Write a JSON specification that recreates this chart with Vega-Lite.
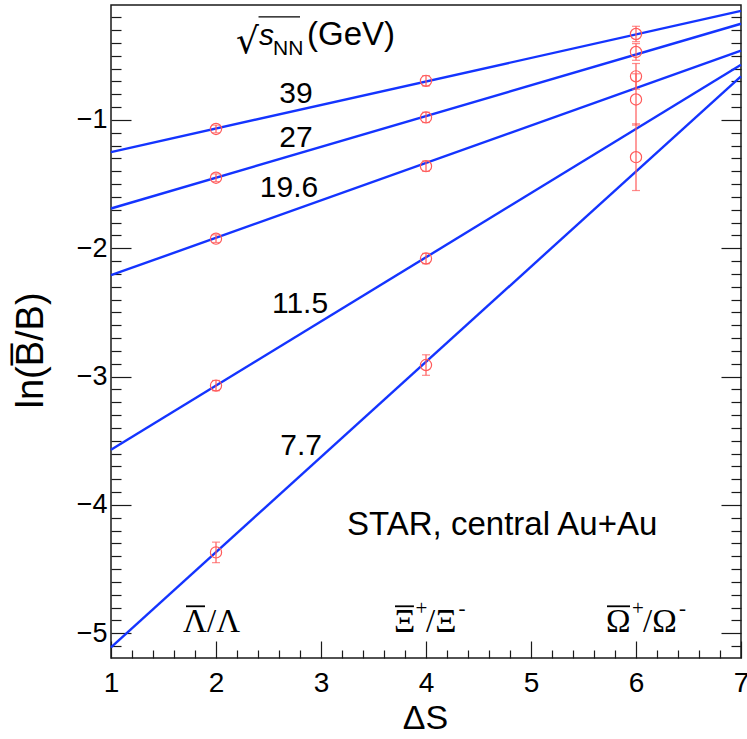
{
  "$schema": "https://vega.github.io/schema/vega-lite/v6.json",
  "width": 630,
  "height": 653,
  "autosize": "none",
  "padding": {"left": 111, "top": 5, "right": 6, "bottom": 81},
  "background": "white",
  "config": {
    "view": {"stroke": "#1a1a1a", "strokeWidth": 1.5},
    "axis": {"grid": false, "domain": false, "tickColor": "#1a1a1a", "tickWidth": 1.2, "labelFont": "Liberation Sans", "titleFont": "Liberation Sans", "labelColor": "black", "titleColor": "black", "titleFontWeight": "normal", "labelFlush": false, "labelOverlap": false},
    "text": {"font": "Liberation Sans", "color": "black"}
  },
  "datasets": {
    "fits": [
      {"energy": "39", "x": 1, "y": -1.25}, {"energy": "39", "x": 7, "y": -0.15},
      {"energy": "27", "x": 1, "y": -1.69}, {"energy": "27", "x": 7, "y": -0.25},
      {"energy": "19.6", "x": 1, "y": -2.21}, {"energy": "19.6", "x": 7, "y": -0.46},
      {"energy": "11.5", "x": 1, "y": -3.57}, {"energy": "11.5", "x": 7, "y": -0.57},
      {"energy": "7.7", "x": 1, "y": -5.11}, {"energy": "7.7", "x": 7, "y": -0.66}
    ],
    "pts": [
      {"energy": "39", "x": 2, "y": -1.07, "err": 0.03},
      {"energy": "27", "x": 2, "y": -1.45, "err": 0.03},
      {"energy": "19.6", "x": 2, "y": -1.925, "err": 0.03},
      {"energy": "11.5", "x": 2, "y": -3.07, "err": 0.04},
      {"energy": "7.7", "x": 2, "y": -4.37, "err": 0.08},
      {"energy": "39", "x": 4, "y": -0.695, "err": 0.04},
      {"energy": "27", "x": 4, "y": -0.98, "err": 0.04},
      {"energy": "19.6", "x": 4, "y": -1.36, "err": 0.04},
      {"energy": "11.5", "x": 4, "y": -2.08, "err": 0.04},
      {"energy": "7.7", "x": 4, "y": -2.91, "err": 0.08},
      {"energy": "39", "x": 6, "y": -0.33, "err": 0.06},
      {"energy": "27", "x": 6, "y": -0.47, "err": 0.065},
      {"energy": "19.6", "x": 6, "y": -0.66, "err": 0.1},
      {"energy": "11.5", "x": 6, "y": -0.84, "err": 0.2},
      {"energy": "7.7", "x": 6, "y": -1.29, "err": 0.26}
    ],
    "elabels": [
      {"label": "39", "x": 2.762, "y": -0.868},
      {"label": "27", "x": 2.762, "y": -1.21},
      {"label": "19.6", "x": 2.695, "y": -1.6},
      {"label": "11.5", "x": 2.8, "y": -2.504},
      {"label": "7.7", "x": 2.81, "y": -3.611}
    ],
    "star": [{"label": "STAR, central Au+Au", "x": 3.248, "y": -4.235}],
    "pmain": [
      {"label": "Λ/Λ", "x": 1.686, "y": -4.991},
      {"label": "Ξ", "x": 3.695, "y": -4.991},
      {"label": "/Ξ", "x": 4.0, "y": -4.991},
      {"label": "Ω", "x": 5.714, "y": -4.991},
      {"label": "/Ω", "x": 6.067, "y": -4.991}
    ],
    "psup": [
      {"label": "+", "x": 3.9, "y": -4.858},
      {"label": "-", "x": 4.31, "y": -4.858},
      {"label": "+", "x": 5.962, "y": -4.858},
      {"label": "-", "x": 6.41, "y": -4.858}
    ],
    "pbar": [
      {"x": 1.714, "x2": 1.895, "y": -4.79},
      {"x": 3.705, "x2": 3.885, "y": -4.79},
      {"x": 5.724, "x2": 5.943, "y": -4.79}
    ],
    "hroot": [{"label": "√", "x": 2.19, "y": -0.478}],
    "hs": [{"label": "s", "x": 2.41, "y": -0.415}],
    "hnn": [{"label": "NN", "x": 2.543, "y": -0.493}],
    "hgev": [{"label": "(GeV)", "x": 2.867, "y": -0.415}],
    "hbar": [{"x": 2.405, "x2": 2.8, "y": -0.197}]
  },
  "resolve": {"scale": {"x": "independent", "y": "independent"}, "axis": {"x": "independent", "y": "independent"}},
  "layer": [
    {
      "data": {"name": "fits"},
      "mark": {"type": "line", "color": "#1434ff", "strokeWidth": 2.4},
      "encoding": {
        "x": {"field": "x", "type": "quantitative", "scale": {"domain": [1, 7], "nice": false, "zero": false},
          "axis": {"orient": "bottom", "values": [1, 2, 3, 4, 5, 6, 7], "ticks": false, "tickSize": 0, "labelFontSize": 28, "labelPadding": 11, "format": "d", "title": "ΔS", "titleFontSize": 34, "titleX": 314, "titleY": 60, "titleBaseline": "middle", "titleAlign": "center"}},
        "y": {"field": "y", "type": "quantitative", "scale": {"domain": [-5.193, -0.104], "nice": false, "zero": false},
          "axis": {"orient": "left", "values": [-5, -4, -3, -2, -1], "ticks": false, "tickSize": 0, "labelFontSize": 27, "labelPadding": 4, "format": "d", "title": "ln(B̅/B)", "titleFontSize": 38, "titleX": -80, "titleY": 345, "titleBaseline": "middle", "titleAlign": "center", "titleAngle": -90}},
        "detail": {"field": "energy"}
      }
    },
    {
      "data": {"name": "pts"},
      "mark": {"type": "errorbar", "color": "#ff5a5a", "thickness": 1.2, "ticks": {"size": 8, "color": "#ff5a5a", "thickness": 1.2}},
      "encoding": {
        "x": {"field": "x", "type": "quantitative", "scale": {"domain": [1, 7], "nice": false, "zero": false},
          "axis": {"orient": "bottom", "values": [1, 2, 3, 4, 5, 6, 7], "tickSize": -17, "labels": false, "title": null}},
        "y": {"field": "y", "type": "quantitative", "scale": {"domain": [-5.193, -0.104], "nice": false, "zero": false},
          "axis": {"orient": "left", "values": [-5, -4, -3, -2, -1], "tickSize": -20, "labels": false, "title": null}},
        "yError": {"field": "err"}
      }
    },
    {
      "data": {"name": "pts"},
      "mark": {"type": "point", "shape": "circle", "filled": false, "color": "#ff5a5a", "size": 125, "strokeWidth": 1.2, "opacity": 1},
      "encoding": {
        "x": {"field": "x", "type": "quantitative", "scale": {"domain": [1, 7], "nice": false, "zero": false},
          "axis": {"orient": "bottom", "values": [1.2, 1.4, 1.6, 1.8, 2.2, 2.4, 2.6, 2.8, 3.2, 3.4, 3.6, 3.8, 4.2, 4.4, 4.6, 4.8, 5.2, 5.4, 5.6, 5.8, 6.2, 6.4, 6.6, 6.8], "tickSize": -8, "labels": false, "title": null}},
        "y": {"field": "y", "type": "quantitative", "scale": {"domain": [-5.193, -0.104], "nice": false, "zero": false},
          "axis": {"orient": "left", "values": [-5.1, -4.9, -4.8, -4.7, -4.6, -4.5, -4.4, -4.3, -4.2, -4.1, -3.9, -3.8, -3.7, -3.6, -3.5, -3.4, -3.3, -3.2, -3.1, -2.9, -2.8, -2.7, -2.6, -2.5, -2.4, -2.3, -2.2, -2.1, -1.9, -1.8, -1.7, -1.6, -1.5, -1.4, -1.3, -1.2, -1.1, -0.9, -0.8, -0.7, -0.6, -0.5, -0.4, -0.3, -0.2], "tickSize": -10, "labels": false, "title": null}}
      }
    },
    {
      "data": {"name": "elabels"},
      "mark": {"type": "text", "fontSize": 30, "align": "center", "baseline": "alphabetic"},
      "encoding": {
        "x": {"field": "x", "type": "quantitative", "scale": {"domain": [1, 7], "nice": false, "zero": false}, "axis": null},
        "y": {"field": "y", "type": "quantitative", "scale": {"domain": [-5.193, -0.104], "nice": false, "zero": false},
          "axis": {"orient": "right", "values": [-5, -4, -3, -2, -1], "tickSize": -20, "labels": false, "title": null}},
        "text": {"field": "label"}
      }
    },
    {
      "data": {"name": "star"},
      "mark": {"type": "text", "fontSize": 33, "align": "left", "baseline": "alphabetic"},
      "encoding": {
        "x": {"field": "x", "type": "quantitative", "scale": {"domain": [1, 7], "nice": false, "zero": false}, "axis": null},
        "y": {"field": "y", "type": "quantitative", "scale": {"domain": [-5.193, -0.104], "nice": false, "zero": false},
          "axis": {"orient": "right", "values": [-5.1, -4.9, -4.8, -4.7, -4.6, -4.5, -4.4, -4.3, -4.2, -4.1, -3.9, -3.8, -3.7, -3.6, -3.5, -3.4, -3.3, -3.2, -3.1, -2.9, -2.8, -2.7, -2.6, -2.5, -2.4, -2.3, -2.2, -2.1, -1.9, -1.8, -1.7, -1.6, -1.5, -1.4, -1.3, -1.2, -1.1, -0.9, -0.8, -0.7, -0.6, -0.5, -0.4, -0.3, -0.2], "tickSize": -10, "labels": false, "title": null}},
        "text": {"field": "label"}
      }
    },
    {
      "data": {"name": "pmain"},
      "mark": {"type": "text", "font": "Liberation Serif", "fontSize": 33, "align": "left", "baseline": "alphabetic"},
      "encoding": {
        "x": {"field": "x", "type": "quantitative", "scale": {"domain": [1, 7], "nice": false, "zero": false}, "axis": null},
        "y": {"field": "y", "type": "quantitative", "scale": {"domain": [-5.193, -0.104], "nice": false, "zero": false}, "axis": null},
        "text": {"field": "label"}
      }
    },
    {
      "data": {"name": "psup"},
      "mark": {"type": "text", "font": "Liberation Serif", "fontSize": 21, "align": "left", "baseline": "alphabetic"},
      "encoding": {
        "x": {"field": "x", "type": "quantitative", "scale": {"domain": [1, 7], "nice": false, "zero": false}, "axis": null},
        "y": {"field": "y", "type": "quantitative", "scale": {"domain": [-5.193, -0.104], "nice": false, "zero": false}, "axis": null},
        "text": {"field": "label"}
      }
    },
    {
      "data": {"name": "pbar"},
      "mark": {"type": "rule", "color": "black", "strokeWidth": 1.8},
      "encoding": {
        "x": {"field": "x", "type": "quantitative", "scale": {"domain": [1, 7], "nice": false, "zero": false}, "axis": null},
        "x2": {"field": "x2"},
        "y": {"field": "y", "type": "quantitative", "scale": {"domain": [-5.193, -0.104], "nice": false, "zero": false}, "axis": null}
      }
    },
    {
      "data": {"name": "hroot"},
      "mark": {"type": "text", "font": "DejaVu Sans", "fontSize": 36, "align": "left", "baseline": "alphabetic"},
      "encoding": {
        "x": {"field": "x", "type": "quantitative", "scale": {"domain": [1, 7], "nice": false, "zero": false}, "axis": null},
        "y": {"field": "y", "type": "quantitative", "scale": {"domain": [-5.193, -0.104], "nice": false, "zero": false}, "axis": null},
        "text": {"field": "label"}
      }
    },
    {
      "data": {"name": "hs"},
      "mark": {"type": "text", "fontSize": 30, "fontStyle": "italic", "align": "left", "baseline": "alphabetic"},
      "encoding": {
        "x": {"field": "x", "type": "quantitative", "scale": {"domain": [1, 7], "nice": false, "zero": false}, "axis": null},
        "y": {"field": "y", "type": "quantitative", "scale": {"domain": [-5.193, -0.104], "nice": false, "zero": false}, "axis": null},
        "text": {"field": "label"}
      }
    },
    {
      "data": {"name": "hnn"},
      "mark": {"type": "text", "fontSize": 21, "align": "left", "baseline": "alphabetic"},
      "encoding": {
        "x": {"field": "x", "type": "quantitative", "scale": {"domain": [1, 7], "nice": false, "zero": false}, "axis": null},
        "y": {"field": "y", "type": "quantitative", "scale": {"domain": [-5.193, -0.104], "nice": false, "zero": false}, "axis": null},
        "text": {"field": "label"}
      }
    },
    {
      "data": {"name": "hgev"},
      "mark": {"type": "text", "fontSize": 33, "align": "left", "baseline": "alphabetic"},
      "encoding": {
        "x": {"field": "x", "type": "quantitative", "scale": {"domain": [1, 7], "nice": false, "zero": false}, "axis": null},
        "y": {"field": "y", "type": "quantitative", "scale": {"domain": [-5.193, -0.104], "nice": false, "zero": false}, "axis": null},
        "text": {"field": "label"}
      }
    },
    {
      "data": {"name": "hbar"},
      "mark": {"type": "rule", "color": "black", "strokeWidth": 1.3},
      "encoding": {
        "x": {"field": "x", "type": "quantitative", "scale": {"domain": [1, 7], "nice": false, "zero": false}, "axis": null},
        "x2": {"field": "x2"},
        "y": {"field": "y", "type": "quantitative", "scale": {"domain": [-5.193, -0.104], "nice": false, "zero": false}, "axis": null}
      }
    }
  ]
}
